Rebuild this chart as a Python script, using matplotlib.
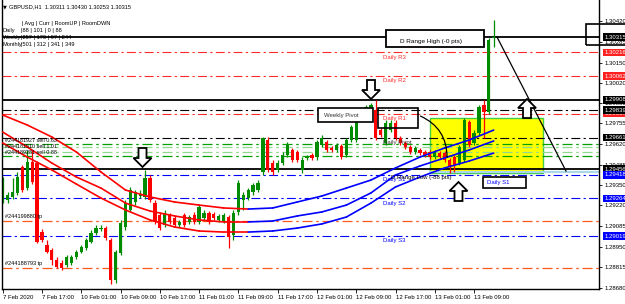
import matplotlib
matplotlib.use("Agg")
import matplotlib.pyplot as plt
from matplotlib.patches import Rectangle, Polygon
import pandas as pd

plt.rcParams['font.family'] = ['Liberation Sans', 'DejaVu Sans']

# ---------------- data ----------------
symbol = "GBPUSD,H1"
title_ohlc = [1.30311, 1.30430, 1.30253, 1.30315]

opens = [1.29267, 1.29254, 1.29274, 1.29300, 1.29469, 1.29332, 1.29502, 1.29495, 1.29045, 1.28961,
         1.28928, 1.28863, 1.28843, 1.28830, 1.28843, 1.28882, 1.28915, 1.28941, 1.28980, 1.29039,
         1.29065, 1.29071, 1.28993, 1.28732, 1.28908, 1.29078, 1.29189, 1.29241, 1.29280, 1.29274,
         1.29397, 1.29234, 1.29156, 1.29091, 1.29156, 1.29137, 1.29091, 1.29156, 1.29111, 1.29156,
         1.29111, 1.29137, 1.29169, 1.29163, 1.29124, 1.29117, 1.29143, 1.29026, 1.29176, 1.29254,
         1.29267, 1.29306, 1.29319, 1.29437, 1.29645, 1.29495, 1.29450, 1.29495, 1.29547, 1.29580,
         1.29567, 1.29450, 1.29528, 1.29547, 1.29534, 1.29613, 1.29632, 1.29593, 1.29580, 1.29606,
         1.29547, 1.29645, 1.29645, 1.29795, 1.29821, 1.29841, 1.29841, 1.29710, 1.29626, 1.29710,
         1.29756, 1.29658, 1.29626, 1.29600, 1.29567, 1.29580, 1.29567, 1.29567, 1.29534, 1.29560,
         1.29560, 1.29515, 1.29534, 1.29495, 1.29515, 1.29763, 1.29626, 1.29691, 1.29873, 1.29828,
         1.30311]
highs = [1.29404, 1.29306, 1.29397, 1.29437, 1.29482, 1.29580, 1.29580, 1.29508, 1.29065, 1.28993,
         1.28941, 1.28882, 1.28863, 1.28895, 1.28895, 1.28928, 1.28961, 1.29006, 1.29058, 1.29091,
         1.29091, 1.29084, 1.29006, 1.28928, 1.29124, 1.29254, 1.29339, 1.29319, 1.29319, 1.29450,
         1.29417, 1.29254, 1.29176, 1.29189, 1.29169, 1.29150, 1.29124, 1.29169, 1.29156, 1.29176,
         1.29221, 1.29189, 1.29182, 1.29176, 1.29163, 1.29169, 1.29156, 1.29189, 1.29384, 1.29306,
         1.29332, 1.29365, 1.29384, 1.29665, 1.29665, 1.29515, 1.29515, 1.29567, 1.29632, 1.29593,
         1.29580, 1.29534, 1.29547, 1.29560, 1.29645, 1.29678, 1.29645, 1.29606, 1.29626, 1.29619,
         1.29658, 1.29743, 1.29821, 1.29854, 1.29873, 1.29886, 1.29906, 1.29723, 1.29776, 1.29776,
         1.29776, 1.29671, 1.29639, 1.29613, 1.29606, 1.29593, 1.29580, 1.29580, 1.29580, 1.29573,
         1.29573, 1.29528, 1.29547, 1.29613, 1.29789, 1.29776, 1.29710, 1.29873, 1.29906, 1.30310,
         1.30430]
lows = [1.29234, 1.29234, 1.29261, 1.29287, 1.29306, 1.29319, 1.29358, 1.28974, 1.28980, 1.28908,
        1.28830, 1.28811, 1.28798, 1.28817, 1.28830, 1.28869, 1.28908, 1.28928, 1.28974, 1.29026,
        1.29052, 1.28993, 1.28706, 1.28713, 1.28895, 1.29058, 1.29176, 1.29221, 1.29267, 1.29261,
        1.29241, 1.29098, 1.29058, 1.29078, 1.29098, 1.29078, 1.29078, 1.29078, 1.29098, 1.29098,
        1.29098, 1.29124, 1.29098, 1.29124, 1.29111, 1.29104, 1.28941, 1.28993, 1.29156, 1.29189,
        1.29254, 1.29287, 1.29306, 1.29417, 1.29437, 1.29417, 1.29437, 1.29482, 1.29534, 1.29502,
        1.29502, 1.29430, 1.29515, 1.29515, 1.29515, 1.29600, 1.29567, 1.29567, 1.29567, 1.29521,
        1.29534, 1.29632, 1.29632, 1.29776, 1.29808, 1.29828, 1.29645, 1.29665, 1.29613, 1.29697,
        1.29645, 1.29613, 1.29587, 1.29554, 1.29554, 1.29547, 1.29534, 1.29521, 1.29521, 1.29521,
        1.29502, 1.29430, 1.29437, 1.29482, 1.29502, 1.29600, 1.29613, 1.29678, 1.29658, 1.29815,
        1.30253]
closes = [1.29319, 1.29287, 1.29306, 1.29404, 1.29319, 1.29502, 1.29371, 1.28980, 1.28993, 1.28915,
          1.28863, 1.28817, 1.28811, 1.28882, 1.28882, 1.28915, 1.28948, 1.28993, 1.29039, 1.29071,
          1.29071, 1.29006, 1.28732, 1.28915, 1.29104, 1.29234, 1.29319, 1.29306, 1.29293, 1.29397,
          1.29254, 1.29111, 1.29071, 1.29169, 1.29111, 1.29091, 1.29111, 1.29091, 1.29143, 1.29111,
          1.29208, 1.29169, 1.29111, 1.29137, 1.29150, 1.29156, 1.29013, 1.29169, 1.29365, 1.29287,
          1.29319, 1.29352, 1.29365, 1.29658, 1.29450, 1.29437, 1.29495, 1.29547, 1.29613, 1.29515,
          1.29515, 1.29515, 1.29534, 1.29528, 1.29632, 1.29658, 1.29580, 1.29580, 1.29613, 1.29534,
          1.29645, 1.29730, 1.29808, 1.29828, 1.29860, 1.29873, 1.29658, 1.29678, 1.29756, 1.29756,
          1.29658, 1.29626, 1.29600, 1.29567, 1.29593, 1.29560, 1.29547, 1.29534, 1.29567, 1.29534,
          1.29515, 1.29469, 1.29482, 1.29600, 1.29776, 1.29613, 1.29691, 1.29860, 1.29828, 1.30297,
          1.30315]

# moving-average channel, sampled every 5 bars
ma_bars = list(range(0, 101, 5))
ma_upper = [1.29808, 1.29743, 1.29665, 1.29567, 1.29437, 1.29319, 1.29274, 1.29241, 1.29221, 1.29202,
            1.29195, 1.29202, 1.29241, 1.29280, 1.29332, 1.29384, 1.29463, 1.29534, 1.29593, 1.29645, 1.29710]
ma_mid = [1.29697, 1.29600, 1.29495, 1.29404, 1.29332, 1.29234, 1.29182, 1.29150, 1.29124, 1.29111,
          1.29111, 1.29117, 1.29150, 1.29176, 1.29221, 1.29300, 1.29417, 1.29476, 1.29528, 1.29580, 1.29639]
ma_lower = [1.29626, 1.29534, 1.29450, 1.29358, 1.29267, 1.29189, 1.29124, 1.29078, 1.29052, 1.29045,
            1.29045, 1.29052, 1.29071, 1.29098, 1.29143, 1.29234, 1.29339, 1.29404, 1.29463, 1.29508, 1.29560]

price_ticks = [1.28680, 1.28815, 1.28950, 1.29085, 1.29220, 1.29350, 1.29485,
               1.29620, 1.29755, 1.29885, 1.30020, 1.30150, 1.30285, 1.30420]

range_high = 1.30315
range_low = 1.29456
range_high_pts = 0
range_low_pts = -88
upper_level = 1.29908
weekly_pivot = 1.29839
pivot_names = ["Daily R3", "Daily R2", "Daily R1", "Daily Pivot", "Daily S1", "Daily S2", "Daily S3"]
pivot_values = [1.30216, 1.30062, 1.29817, 1.29661, 1.29418, 1.29264, 1.29019]
pivot_colors = ["#ff2a2a", "#ff2a2a", "#ff2a2a", "#000000", "#0000ff", "#0000ff", "#0000ff"]
box_low = 1.29437

order_prices = [1.29619, 1.29600, 1.29570, 1.29541]
order_colors = ["#00a000", "#8fd88f", "#8fd88f", "#00a000"]
order_labels = ["#244181927 sell 0.63", "#244181510 sell 1.01", "#244189281 sell 0.88"]
tp_prices = [1.29117, 1.28810]
tp_labels = ["#244199880 tp", "#244188793 tp"]

stat_rows = ["Daily", "Weekly", "Monthly"]
stat_avg = [88, 257, 501]
stat_curr = [101, 173, 312]
stat_up = [0, 97, 341]
stat_down = [88, 244, 349]

bar_times = pd.date_range("2020-02-07 09:00", "2020-02-07 23:00", freq="h").append(
    pd.date_range("2020-02-10 00:00", "2020-02-13 13:00", freq="h"))

# ---------------- layout helpers ----------------
W, H = 625, 304
X0_PX, PX_PER_BAR = 2.7, 4.91
P_TOP, PRICE_PER_PX = 1.30558, 0.0000652


def bx(px):
    return (px - X0_PX) / PX_PER_BAR


def py(px):
    return P_TOP - px * PRICE_PER_PX


fig = plt.figure(figsize=(W / 100, H / 100), dpi=100)
ax = fig.add_axes([2 / W, (H - 289) / H, 597 / W, 289 / H])
ax.set_xlim(bx(2), bx(599))
ax.set_ylim(py(289), py(0))
ax.set_facecolor("white")

DD = (0, (8, 3, 2, 3))  # MT4 dash-dot
FS = 4.3

# horizontal levels
ax.axhline(range_high, color="black", lw=1.3, zorder=1)
ax.axhline(range_low, color="black", lw=1.3, zorder=1)
ax.axhline(upper_level, color="black", lw=1.3, zorder=1)
ax.axhline(weekly_pivot, color="black", lw=0.8, ls=DD, zorder=1)
for v, c in zip(pivot_values, pivot_colors):
    ax.axhline(v, color=c, lw=0.8, ls=DD, zorder=1)
for v, c in zip(order_prices, order_colors):
    ax.axhline(v, color=c, lw=0.9, ls=DD, zorder=1)
for v in tp_prices:
    ax.axhline(v, color="#ff5a1e", lw=0.9, ls=DD, zorder=1)

# yellow zone
ax.add_patch(Rectangle((bx(430), py(173)), bx(543) - bx(430), py(118) - py(173),
                       fc="#ffff00", ec="#44cc44", lw=1.0, zorder=0.8))
ax.plot([bx(430), bx(599)], [box_low, box_low], color="#a8d8ea", lw=1.6, zorder=0.9)

# candles
bars = list(range(len(opens)))
for i in bars:
    o, h, l, c = opens[i], highs[i], lows[i], closes[i]
    col = "#008c00" if c >= o else "#ff0000"
    ax.vlines(i, l, h, color=col, lw=0.9, zorder=2)
    ax.bar(i, max(abs(c - o), 0.00008), bottom=min(o, c), width=0.66, color=col, lw=0, zorder=2.1)

# MA channel (red when falling, blue when rising)
for ser in (ma_upper, ma_mid, ma_lower):
    for k in range(len(ma_bars) - 1):
        col = "#0000ff" if ser[k + 1] > ser[k] else "#ff0000"
        ax.plot(ma_bars[k:k + 2], ser[k:k + 2], color=col, lw=1.2, zorder=3, solid_capstyle="round")

# axes styling
for s in ["left", "bottom", "right"]:
    ax.spines[s].set_color("black")
    ax.spines[s].set_linewidth(1.0)
ax.spines["top"].set_visible(False)

tick_bars = list(range(0, len(bar_times), 8))
tick_labels = ["7 Feb 2020" if b == 0 else f"{bar_times[b].day} {bar_times[b]:%b %H:%M}" for b in tick_bars]
ax.set_xticks(tick_bars)
ax.set_xticklabels(tick_labels, fontsize=FS, ha="left")
ax.tick_params(axis="x", length=3, width=0.6, pad=1.5)

ax.yaxis.tick_right()
ax.set_yticks(price_ticks)
ax.set_yticklabels([f"{p:.5f}" for p in price_ticks], fontsize=FS)
ax.tick_params(axis="y", length=2, width=0.6, pad=2)

# price labels on the axis
axis_tags = [(range_high, "black"), (pivot_values[0], "#ff2020"), (pivot_values[1], "#ff2020"),
             (upper_level, "black"), (pivot_values[2], "#ff2020"), (weekly_pivot, "black"),
             (pivot_values[3], "black"), (range_low, "black"), (pivot_values[4], "#0000ff"),
             (pivot_values[5], "#0000ff"), (pivot_values[6], "#0000ff")]
for v, c in axis_tags:
    ax.text(1.0085, v, f"{v:.5f}", transform=ax.get_yaxis_transform(), fontsize=FS, color="white",
            va="center", ha="left", clip_on=False, zorder=10,
            bbox=dict(boxstyle="square,pad=0.22", fc=c, ec="none"))
fig.add_artist(Rectangle((586 / W, 1 - 45 / H), 45 / W, 21 / H, transform=fig.transFigure,
                         fill=False, ec="black", lw=1.2))

# pivot labels
lab_x = bx(383)
for n, v, c in zip(pivot_names, pivot_values, pivot_colors):
    col = "#333333" if n == "Daily Pivot" else c
    ax.annotate(n, (lab_x, v), xytext=(0, -1.5), textcoords="offset points", fontsize=FS,
                color=col, va="top", ha="left", zorder=6)
ax.text(bx(391), pivot_values[4], f"D Range Low ({range_low_pts} pts)", fontsize=FS, color="black",
        va="top", ha="left", zorder=6)
# weekly pivot box
ax.add_patch(Rectangle((bx(318), py(122)), bx(373) - bx(318), py(108) - py(122), fc="white",
                       ec="black", lw=1.2, zorder=5))
ax.text(bx(324), py(115), "Weekly Pivot", fontsize=FS, color="#333333", va="center", ha="left", zorder=6)
ax.add_patch(Rectangle((bx(378), py(128)), bx(418) - bx(378), py(108) - py(128), fill=False,
                       ec="black", lw=1.2, zorder=5))
# range high box
ax.add_patch(Rectangle((bx(386), py(47)), bx(484) - bx(386), py(30) - py(47), fc="white",
                       ec="black", lw=1.3, zorder=5))
ax.text(bx(400), py(42), f"D Range High (-{range_high_pts} pts)", fontsize=FS + 0.3, color="black",
        va="center", ha="left", zorder=6)
# daily S1 box
ax.add_patch(Rectangle((bx(483), py(188)), bx(526) - bx(483), py(177) - py(188), fc="white",
                       ec="black", lw=1.2, zorder=5))
ax.text(bx(487), py(182.5), "Daily S1", fontsize=FS, color="#0000ff", va="center", ha="left", zorder=6)

# order labels
for lab, v in zip(order_labels, [py(140), py(146), py(152)]):
    ax.text(bx(5), v, lab, fontsize=FS - 0.4, color="black", va="center", ha="left", zorder=6)
for lab, v in zip(tp_labels, tp_prices):
    ax.annotate(lab, (bx(5), v), xytext=(0, 1.5), textcoords="offset points", fontsize=FS - 0.3,
                color="black", va="bottom", ha="left", zorder=6)


# block arrows
def block_arrow(xc_px, tip_px, up):
    s = -1 if up else 1
    shape = [(0, 0), (9, -9), (4, -9), (4, -19), (-4, -19), (-4, -9), (-9, -9)]
    pts = [(bx(xc_px + dx), py(tip_px + s * dy)) for dx, dy in shape]
    ax.add_patch(Polygon(pts, closed=True, fc="white", ec="black", lw=1.3, zorder=7))


block_arrow(142.5, 167, up=False)
block_arrow(371, 99, up=False)
block_arrow(527, 99, up=True)
block_arrow(458.5, 182, up=True)

# drawn trend lines
ax.plot([bx(497), bx(566)], [py(37), py(171)], color="black", lw=0.9, zorder=6)
ax.annotate("", xy=(bx(447), py(160)), xytext=(bx(418), py(115)),
            arrowprops=dict(arrowstyle="-", color="black", lw=0.9, connectionstyle="arc3,rad=-0.35"),
            zorder=6)

# header texts
FS2 = 4.1
fig.text(3 / W, 1 - 7 / H, "▼", fontsize=FS2 - 0.5, va="center", ha="left", family="DejaVu Sans")
fig.text(9 / W, 1 - 7 / H, f"{symbol}  " + " ".join(f"{v:.5f}" for v in title_ohlc),
         fontsize=FS2, va="center", ha="left")
fig.text(20 / W, 1 - 24 / H, " | Avg | Curr | RoomUP | RoomDWN", fontsize=FS2, va="center", ha="left")
for k, (r, a, cu, u, d) in enumerate(zip(stat_rows, stat_avg, stat_curr, stat_up, stat_down)):
    fig.text(3 / W, 1 - (30.5 + 6.8 * k) / H, r, fontsize=FS2, va="center", ha="left")
    fig.text(21 / W, 1 - (30.5 + 6.8 * k) / H, f"|{a} | {cu} | {u} | {d}", fontsize=FS2,
             va="center", ha="left")

fig.savefig("out.png", dpi=100)
